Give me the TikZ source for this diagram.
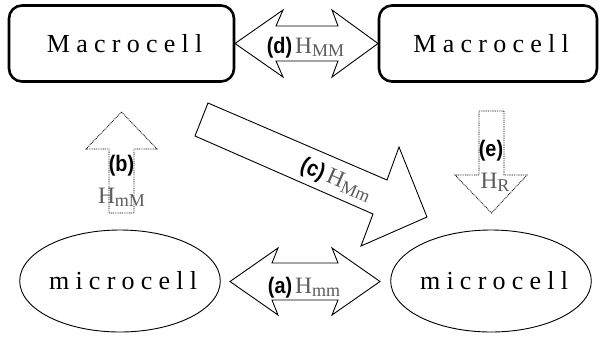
\documentclass[tikz,border=0pt]{standalone}
\usepackage{fontspec}
\usetikzlibrary{shapes.geometric}
\setmainfont{Liberation Serif}
\newfontfamily\lblfont{Liberation Sans}
\newfontfamily\cellfont[LetterSpace=24]{Liberation Serif}
\definecolor{labgray}{gray}{0.36}
\newcommand{\Hsym}[1]{\textcolor{labgray}{H\raisebox{-3pt}{\fontsize{18}{18}\selectfont #1}}}
\newcommand{\tagl}[1]{\scalebox{0.88}[1]{\lblfont\bfseries\fontsize{22.5}{22.5}\selectfont #1}}
\begin{document}
\begin{tikzpicture}[x=1pt,y=-1pt,
  cellbox/.style={draw,line width=2.6pt,rounded corners=13pt,inner sep=0pt,
    font=\cellfont\fontsize{26}{26}\selectfont},
  cellell/.style={draw,ellipse,line width=0.9pt,inner sep=0pt,
    font=\cellfont\fontsize{26}{26}\selectfont},
  solidarr/.style={draw,fill=white,line width=0.9pt,line join=miter},
  dotarr/.style={draw,line width=0.8pt,dash pattern=on 0.9pt off 0.9pt},
  lab/.style={inner sep=0pt,font=\fontsize{23.5}{23.5}\selectfont}]
\useasboundingbox (0,0) rectangle (600,338);

% cells
\node[cellbox,minimum width=225pt,minimum height=76pt] (M1) at (121.5,43.5) {Macrocell\kern-0.24em};
\node[cellbox,minimum width=218pt,minimum height=76pt] (M2) at (488,43.5) {Macrocell\kern-0.24em};
\node[cellell,minimum width=192pt,minimum height=102pt] (m1) at (120,281) {microcell\kern-0.24em};
\node[cellell,minimum width=194pt,minimum height=102pt] (m2) at (491,281) {microcell\kern-0.24em};

% (d) double arrow between macrocells
\draw[solidarr] (235,43.5) -- (283,10) -- (276,26) -- (338,26) -- (332,10) -- (378,43.5)
  -- (332,77) -- (338,61) -- (276,61) -- (283,77) -- cycle;
\node[lab,anchor=base] (ld) at (305.5,53) {\tagl{(d)}\hspace{3pt}\Hsym{MM}};

% (a) double arrow between microcells
\draw[solidarr] (230,281.5) -- (278,248) -- (272,263) -- (338,263) -- (332,248) -- (380,281.5)
  -- (332,315) -- (338,300) -- (272,300) -- (278,315) -- cycle;
\node[lab,anchor=base] (la) at (304,293) {\tagl{(a)}\hspace{3pt}\Hsym{mm}};

% (c) diagonal arrow
\draw[solidarr] (208,103) -- (387,180) -- (399,147) -- (427,217) -- (361,246) -- (373,214)
  -- (195,136) -- cycle;
\node[lab,rotate=-23.3] (lc) at (336,180) {\tagl{(c)}\hspace{4pt}\Hsym{Mm}};

% (b) dotted up arrow
\draw[dotarr] (121.5,112) -- (157,149) -- (134,149) -- (134,213) -- (109,213) -- (109,149)
  -- (86,149) -- cycle;
\node[lab,anchor=base] (lb1) at (121.5,171) {\tagl{(b)}};
\node[lab,anchor=base] (lb2) at (121.5,203) {\Hsym{mM}};

% (e) dotted down arrow
\draw[dotarr] (479,111) -- (504,111) -- (504,175) -- (527,175) -- (491.5,213) -- (455,175)
  -- (479,175) -- cycle;
\node[lab,anchor=base] (le1) at (491,156) {\tagl{(e)}};
\node[lab,anchor=base] (le2) at (495,188) {\Hsym{R}};
\end{tikzpicture}
\end{document}
